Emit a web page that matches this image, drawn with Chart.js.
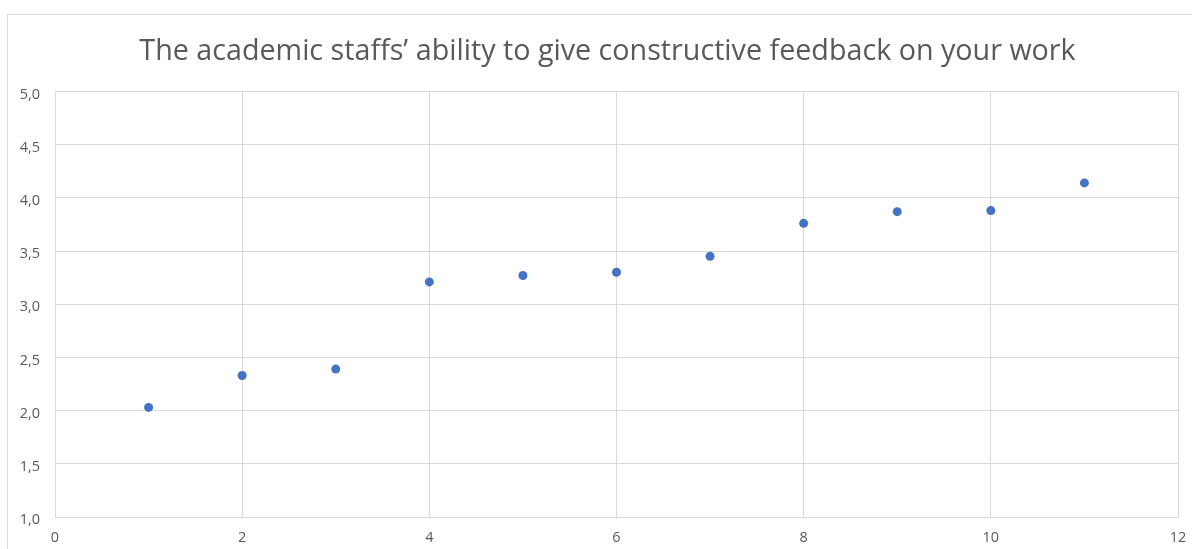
<!DOCTYPE html>
<html>
<head>
<meta charset="utf-8">
<script src="https://cdn.jsdelivr.net/npm/chart.js@4/dist/chart.umd.min.js"></script>
<style>
  html, body { margin: 0; padding: 0; background: #ffffff; }
  #wrap { position: relative; width: 1192px; height: 549px; overflow: hidden; }
  #frame { position: absolute; left: 7px; top: 14px; width: 1240px; height: 600px; border: 1px solid #d9d9d9; box-sizing: border-box; }
  #c { position: absolute; left: 0; top: 0; }
</style>
</head>
<body>
<div id="wrap">
  <div id="frame"></div>
  <canvas id="c" width="1192" height="549"></canvas>
</div>
<script>
// Respondent group index and the mean rating for each
const groups = [1, 2, 3, 4, 5, 6, 7, 8, 9, 10, 11];
const ratings = [2.03, 2.33, 2.39, 3.21, 3.27, 3.30, 3.45, 3.76, 3.87, 3.88, 4.14];

// Axis tick labels (comma decimal separator)
const xTickLabels = ['0', '2', '4', '6', '8', '10', '12'];
const yTickLabels = ['1,0', '1,5', '2,0', '2,5', '3,0', '3,5', '4,0', '4,5', '5,0'];

const chartTitle = 'The academic staffs\u2019 ability to give constructive feedback on your work';

const textColor = '#595959';
const gridColor = '#d9d9d9';
const fontFamily = '"Open Sans", Lato, sans-serif';

const points = groups.map((g, i) => ({ x: g, y: ratings[i] }));

// Centre the title across the framed chart box rather than the canvas
const titleSpan = {
  id: 'titleSpan',
  afterLayout(chart) {
    if (chart.titleBlock) {
      chart.titleBlock.left = 7;
      chart.titleBlock.right = 1208;
      chart.titleBlock.width = 1201;
    }
  }
};

new Chart(document.getElementById('c'), {
  type: 'scatter',
  data: {
    datasets: [{
      data: points,
      backgroundColor: '#4472c4',
      borderColor: '#4472c4',
      pointRadius: 4.5,
      pointHoverRadius: 4.5,
      borderWidth: 0
    }]
  },
  plugins: [titleSpan],
  options: {
    responsive: false,
    animation: false,
    layout: { padding: { left: 0, right: 14, top: 0, bottom: 0 } },
    plugins: {
      legend: { display: false },
      tooltip: { enabled: false },
      title: {
        display: true,
        text: chartTitle,
        color: textColor,
        font: { family: fontFamily, size: 28.7, weight: '400', lineHeight: 1.2 },
        padding: { top: 35, bottom: 22 }
      }
    },
    scales: {
      x: {
        type: 'linear',
        min: 0,
        max: 12,
        afterFit: (s) => { s.height = 32; },
        afterBuildTicks: (s) => { s.ticks = xTickLabels.map((t) => ({ value: Number(t) })); },
        ticks: {
          color: textColor,
          font: { family: fontFamily, size: 14.5, lineHeight: 2.3 },
          padding: 4,
          callback: (v, i) => xTickLabels[i]
        },
        grid: { color: gridColor, drawTicks: false, lineWidth: 1 },
        border: { color: gridColor }
      },
      y: {
        type: 'linear',
        min: 1,
        max: 5,
        afterFit: (s) => { s.width = 55; },
        afterBuildTicks: (s) => { s.ticks = yTickLabels.map((t) => ({ value: Number(t.replace(',', '.')) })); },
        ticks: {
          color: textColor,
          font: { family: fontFamily, size: 14.5 },
          padding: 15,
          labelOffset: 3,
          callback: (v, i) => yTickLabels[i]
        },
        grid: { color: gridColor, drawTicks: false, lineWidth: 1 },
        border: { color: gridColor }
      }
    }
  }
});
</script>
</body>
</html>
